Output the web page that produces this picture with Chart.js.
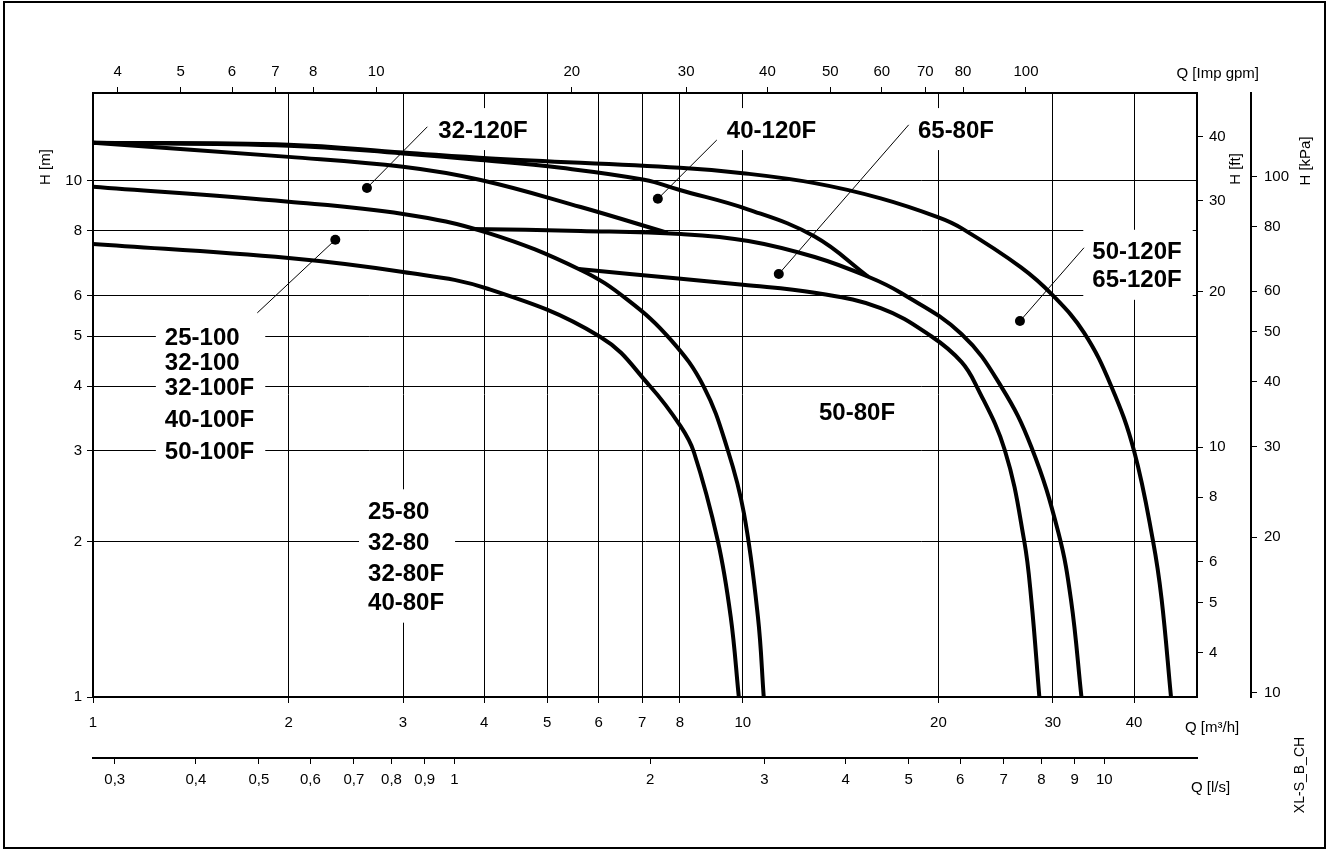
<!DOCTYPE html>
<html>
<head>
<meta charset="utf-8">
<title>XL-S pump curves</title>
<script src="https://cdn.jsdelivr.net/npm/chart.js@4.4.1/dist/chart.umd.min.js"></script>
<style>
  html, body { margin: 0; padding: 0; background: #fff; }
  #wrap { width: 1328px; height: 851px; }
</style>
</head>
<body>
<div id="wrap"><canvas id="pumpChart" width="1328" height="851"></canvas></div>
<script>
// axis ranges (Q in m3/h, H in m)
const qMin = 1, qMax = 50;
const hMin = 1, hMax = 14.8;

// tick labels of every axis
const qTicks = [1, 2, 3, 4, 5, 6, 7, 8, 10, 20, 30, 40];
const hTicks = [1, 2, 3, 4, 5, 6, 8, 10];
const gpmTicks = [4, 5, 6, 7, 8, 10, 20, 30, 40, 50, 60, 70, 80, 100];
const lsTicks = [0.3, 0.4, 0.5, 0.6, 0.7, 0.8, 0.9, 1, 2, 3, 4, 5, 6, 7, 8, 9, 10];
const ftTicks = [4, 5, 6, 8, 10, 20, 30, 40];
const kpaTicks = [10, 20, 30, 40, 50, 60, 80, 100];

// unit conversions for the secondary axes
const GPM = 1000 / 4.54609 / 60;
const LS = 1 / 3.6;
const FT = 3.28084;
const KPA = 9.80665;

// pump curves
const q50_120 = [1, 2, 3, 4.1, 8, 10, 12.9, 16.3, 20, 21.7, 26.8, 30, 33.5, 36.9, 40, 42.8, 44.1, 45.6];
const h50_120 = [11.85, 11.75, 11.35, 11.05, 10.6, 10.35, 9.9, 9.25, 8.5, 8.1, 6.8, 6.0, 5.08, 4.0, 3.0, 2.0, 1.55, 1.0];

const q40_120 = [1, 2, 3, 3.95, 5.25, 7.05, 8.0, 10.2, 12.9, 15.6];
const h40_120 = [11.85, 11.7, 11.3, 10.98, 10.6, 10.05, 9.6, 8.8, 7.8, 6.52];

const q32_120 = [1, 2, 3, 3.95, 5.63, 7.66];
const h32_120 = [11.85, 11.13, 10.65, 10.04, 8.9, 7.93];

const q_100 = [1, 2, 3, 4.05, 5.63, 6.65, 7.75, 8.71, 9.48, 10.04, 10.55, 10.77];
const h_100 = [9.74, 9.11, 8.63, 7.93, 6.72, 5.88, 4.92, 3.99, 3.01, 2.27, 1.43, 1.0];

const q_80 = [1, 2, 3, 4.05, 6.03, 7.2, 8.03, 8.41, 9.15, 9.58, 9.86];
const h_80 = [7.55, 7.09, 6.66, 6.18, 4.99, 4.0, 3.34, 2.98, 2.01, 1.43, 1.0];

const q65_80 = [3.81, 5.63, 8.03, 10.2, 12.9, 15.6, 17.5, 21.7, 25.0, 27.8, 30.6, 32.0, 33.2];
const h65_80 = [8.07, 8.0, 7.89, 7.65, 7.12, 6.52, 6.07, 5.05, 3.99, 3.05, 2.08, 1.54, 1.0];

const q50_80 = [5.59, 8.03, 10.0, 12.9, 16.3, 19.5, 21.7, 22.9, 25.3, 27.1, 27.8, 28.6];
const h50_80 = [6.75, 6.46, 6.29, 6.07, 5.67, 5.0, 4.46, 4.0, 3.01, 2.01, 1.54, 1.0];

// curve labels: text rows, left edge (Q) and row centres (H)
const labelRows = [
  ["32-120F"],
  ["40-120F"],
  ["65-80F"],
  ["50-120F", "65-120F"],
  ["25-100", "32-100", "32-100F", "40-100F", "50-100F"],
  ["25-80", "32-80", "32-80F", "40-80F"],
  ["50-80F"],
];
const labelQ = [3.4, 9.45, 18.6, 34.5, 1.29, 2.65, 13.1];
const labelH = [[12.6], [12.6], [12.6], [7.32, 6.46], [5, 4.47, 4, 3.46, 3], [2.3, 2.0, 1.74, 1.53], [3.57]];

// leader lines: dot position and the far end near the label
const dotQ = [2.64, 7.4, 11.36, 26.7, 2.36];
const dotH = [9.69, 9.23, 6.6, 5.35, 7.69];
const leadQ = [3.27, 9.12, 18.0, 33.5, 1.79];
const leadH = [12.73, 12.0, 12.84, 7.42, 5.55];

const FONT = "'Liberation Sans', Arial, sans-serif";
const LABEL_SIZE = 24;
Chart.defaults.font.family = FONT;
Chart.defaults.font.size = 15;
Chart.defaults.color = "#000";

function toPoints(qs, hs) {
  return qs.map((q, i) => ({ x: q, y: hs[i] }));
}

function curve(qs, hs) {
  return {
    data: toPoints(qs, hs),
    showLine: true,
    borderColor: "#000",
    borderWidth: 4,
    pointRadius: 0,
    tension: 0.4,
    fill: false,
  };
}

function fixedTicks(values) {
  return (scale) => {
    scale.ticks = values.map((v) => ({ value: v }));
  };
}

const plainLabel = (v) => String(v);
const commaLabel = (v) => String(v).replace(".", ",");

function logAxis(position, min, max, ticks, size, padding, extra) {
  const horizontal = position === "top" || position === "bottom";
  return Object.assign(
    {
      type: "logarithmic",
      position: position,
      min: min,
      max: max,
      afterBuildTicks: fixedTicks(ticks),
      afterFit: (scale) => {
        if (horizontal) scale.height = size;
        else scale.width = size;
      },
      grid: { color: "#000", lineWidth: 1, tickLength: 6, drawOnChartArea: false },
      border: { display: true, color: "#000", width: 2 },
      ticks: {
        autoSkip: false,
        maxRotation: 0,
        padding: padding,
        callback: plainLabel,
      },
    },
    extra || {}
  );
}

function textAt(ctx, str, x, y, align, size, bold) {
  ctx.font = (bold ? "bold " : "") + size + "px " + FONT;
  ctx.textAlign = align;
  ctx.textBaseline = "alphabetic";
  ctx.fillText(str, x, y + size * 0.358);
}

function rotatedText(ctx, str, x, y, size) {
  ctx.save();
  ctx.translate(x, y);
  ctx.rotate(-Math.PI / 2);
  textAt(ctx, str, 0, 0, "center", size, false);
  ctx.restore();
}

const pumpLabels = {
  id: "pumpLabels",
  beforeDatasetsDraw(chart) {
    // white boxes behind the labels hide the grid
    const { ctx } = chart;
    const xs = chart.scales.x;
    const ys = chart.scales.y;
    ctx.save();
    ctx.font = "bold " + LABEL_SIZE + "px " + FONT;
    ctx.fillStyle = "#fff";
    labelRows.forEach((rows, i) => {
      const left = xs.getPixelForValue(labelQ[i]);
      const rowY = labelH[i].map((h) => ys.getPixelForValue(h));
      const w = Math.max(...rows.map((r) => ctx.measureText(r).width));
      const top = Math.min(...rowY) - LABEL_SIZE / 2 - 9;
      const bottom = Math.max(...rowY) + LABEL_SIZE / 2 + 9;
      ctx.fillRect(left - 9, top, w + 20, bottom - top);
    });
    ctx.restore();
  },
  afterDatasetsDraw(chart) {
    const { ctx } = chart;
    const xs = chart.scales.x;
    const ys = chart.scales.y;
    ctx.save();
    ctx.strokeStyle = "#000";
    ctx.fillStyle = "#000";
    ctx.lineWidth = 1;
    dotQ.forEach((q, i) => {
      const dx = xs.getPixelForValue(q);
      const dy = ys.getPixelForValue(dotH[i]);
      ctx.beginPath();
      ctx.moveTo(dx, dy);
      ctx.lineTo(xs.getPixelForValue(leadQ[i]), ys.getPixelForValue(leadH[i]));
      ctx.stroke();
      ctx.beginPath();
      ctx.arc(dx, dy, 5, 0, Math.PI * 2);
      ctx.fill();
    });
    labelRows.forEach((rows, i) => {
      const left = xs.getPixelForValue(labelQ[i]);
      rows.forEach((r, j) => {
        textAt(ctx, r, left, ys.getPixelForValue(labelH[i][j]), "left", LABEL_SIZE, true);
      });
    });
    ctx.restore();
  },
  afterDraw(chart) {
    const { ctx, chartArea } = chart;
    ctx.save();
    ctx.fillStyle = "#000";
    rotatedText(ctx, "H [m]", 45, 167, 15);
    textAt(ctx, "Q [Imp gpm]", chartArea.right + 62, 73, "right", 15, false);
    rotatedText(ctx, "H [ft]", 1235, 169, 15);
    rotatedText(ctx, "H [kPa]", 1305, 161, 15);
    textAt(ctx, "Q [m³/h]", 1185, 727, "left", 15, false);
    textAt(ctx, "Q [l/s]", 1191, 787, "left", 15, false);
    rotatedText(ctx, "XL-S_B_CH", 1299, 775, 14);
    ctx.strokeStyle = "#000";
    ctx.lineWidth = 2;
    ctx.strokeRect(4, 2, 1321, 846);
    ctx.restore();
  },
};

const mainGrid = { color: "#000", lineWidth: 1, tickLength: 6, drawOnChartArea: true };

new Chart(document.getElementById("pumpChart").getContext("2d"), {
  type: "scatter",
  data: {
    datasets: [
      curve(q50_120, h50_120),
      curve(q40_120, h40_120),
      curve(q32_120, h32_120),
      curve(q_100, h_100),
      curve(q_80, h_80),
      curve(q65_80, h65_80),
      curve(q50_80, h50_80),
    ],
  },
  options: {
    responsive: false,
    devicePixelRatio: 1,
    animation: false,
    layout: { padding: 0 },
    plugins: {
      legend: { display: false },
      tooltip: { enabled: false },
    },
    scales: {
      x: logAxis("bottom", qMin, qMax, qTicks, 61, 11, { weight: 0, grid: mainGrid }),
      xLs: logAxis("bottom", qMin * LS, qMax * LS, lsTicks, 93, 7, {
        weight: 1,
        ticks: { autoSkip: false, maxRotation: 0, padding: 7, callback: commaLabel },
      }),
      xTop: logAxis("top", qMin * GPM, qMax * GPM, gpmTicks, 93, 6),
      y: logAxis("left", hMin, hMax, hTicks, 93, 5, { grid: mainGrid }),
      yFt: logAxis("right", hMin * FT, hMax * FT, ftTicks, 54, 6, { weight: 0 }),
      yKpa: logAxis("right", hMin * KPA, hMax * KPA, kpaTicks, 77, 7, { weight: 1 }),
    },
  },
  plugins: [pumpLabels],
});
</script>
</body>
</html>
